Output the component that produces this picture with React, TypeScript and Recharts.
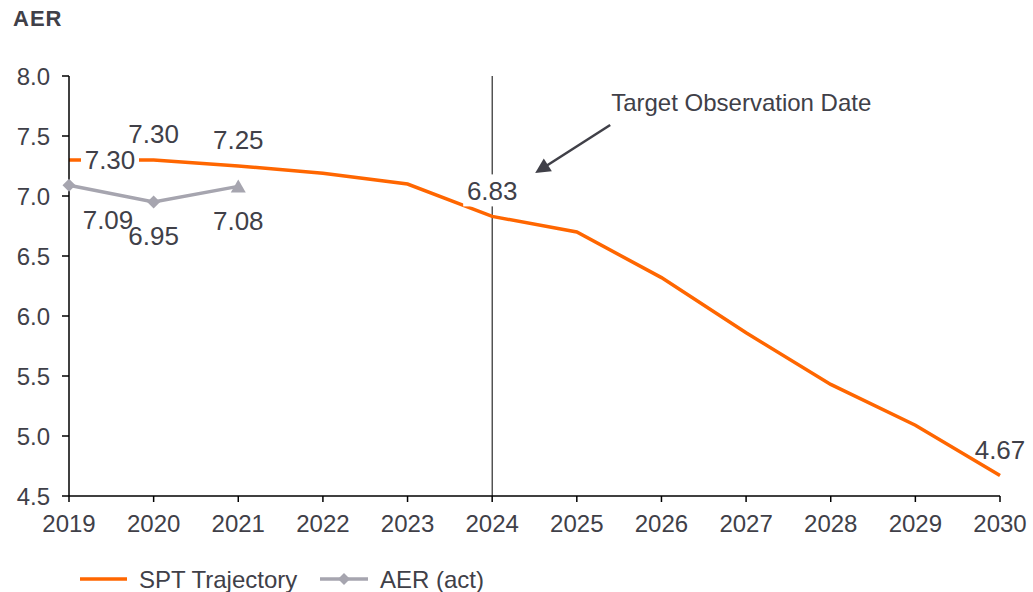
import { LabelList, Legend, Line, LineChart, ReferenceLine, XAxis, YAxis } from 'recharts'

const years = ['2019', '2020', '2021', '2022', '2023', '2024', '2025', '2026', '2027', '2028', '2029', '2030']
const sptTrajectory = [7.3, 7.3, 7.25, 7.19, 7.1, 6.83, 6.7, 6.32, 5.86, 5.43, 5.09, 4.67]
const aerActual = [7.09, 6.95, 7.08, null, null, null, null, null, null, null, null, null]
const sptLabelYears = ['2019', '2020', '2021', '2024', '2030']
const yTicks = [4.5, 5.0, 5.5, 6.0, 6.5, 7.0, 7.5, 8.0]
const targetYear = '2024'

const ORANGE = '#FF6600'
const GREY = '#A6A5AF'
const INK = '#404048'
const FONT = '"Liberation Sans", Arial, sans-serif'
const LABEL_SIZE = 26

const data = years.map((year, i) => ({ year, spt: sptTrajectory[i], aer: aerActual[i] }))

function pos(props: any) {
  const vb = props.viewBox ?? {}
  return { x: vb.x ?? props.x, y: vb.y ?? props.y }
}

function SptLabel(props: any) {
  const { index, value } = props
  const year = years[index]
  if (!sptLabelYears.includes(year)) return null
  const { x, y } = pos(props)
  const first = index === 0
  const cx = x + (first ? 41 : 0)
  const cy = y + (first ? 0 : -26)
  // white box only where the label sits on the line / target marker
  const boxed = first || year === targetYear
  return (
    <g>
      {boxed && <rect x={cx - 29} y={cy - 16} width={58} height={32} fill="#fff" />}
      <text x={cx} y={cy} dy="0.36em" textAnchor="middle" fill={INK} fontSize={LABEL_SIZE} fontFamily={FONT}>
        {Number(value).toFixed(2)}
      </text>
    </g>
  )
}

function AerLabel(props: any) {
  const { index, value } = props
  if (value == null) return null
  const { x, y } = pos(props)
  const cx = x + (index === 0 ? 39 : 0)
  const cy = y + 34
  return (
    <text x={cx} y={cy} dy="0.36em" textAnchor="middle" fill={INK} fontSize={LABEL_SIZE} fontFamily={FONT}>
      {Number(value).toFixed(2)}
    </text>
  )
}

function AerDot(props: any) {
  const { cx, cy, index } = props
  if (cx == null || cy == null || props.value == null) return null
  if (index === 2) {
    return <polygon key={index} points={`${cx},${cy - 7} ${cx + 7.5},${cy + 6} ${cx - 7.5},${cy + 6}`} fill={GREY} />
  }
  return <polygon key={index} points={`${cx},${cy - 6.5} ${cx + 6.5},${cy} ${cx},${cy + 6.5} ${cx - 6.5},${cy}`} fill={GREY} />
}

function TargetNote(props: any) {
  const vb = props.viewBox ?? {}
  const x = vb.x ?? 0
  const y = vb.y ?? 0
  // arrow from note down-left towards the line
  const sx = x + 118
  const sy = y + 49
  const tx = x + 43
  const ty = y + 97
  const len = Math.hypot(tx - sx, ty - sy)
  const ux = (tx - sx) / len
  const uy = (ty - sy) / len
  const bx = tx - ux * 15
  const by = ty - uy * 15
  const px = -uy * 7.5
  const py = ux * 7.5
  return (
    <g>
      <text x={x + 119} y={y + 35} fill={INK} fontSize={24} fontFamily={FONT}>
        Target Observation Date
      </text>
      <line x1={sx} y1={sy} x2={bx + ux * 2} y2={by + uy * 2} stroke={INK} strokeWidth={2.5} />
      <polygon points={`${tx},${ty} ${bx + px},${by + py} ${bx - px},${by - py}`} fill={INK} />
    </g>
  )
}

function ChartLegend() {
  return (
    <svg width={1033} height={30} style={{ display: 'block' }}>
      <line x1={80} y1={15} x2={127} y2={15} stroke={ORANGE} strokeWidth={3.5} />
      <text x={139} y={15} dy="0.36em" fill={INK} fontSize={24} fontFamily={FONT}>
        SPT Trajectory
      </text>
      <line x1={320} y1={15} x2={368} y2={15} stroke={GREY} strokeWidth={3.5} />
      <polygon points="344,9 350,15 344,21 338,15" fill={GREY} />
      <text x={380} y={15} dy="0.36em" fill={INK} fontSize={24} fontFamily={FONT}>
        AER (act)
      </text>
    </svg>
  )
}

export default function App() {
  return (
    <div style={{ position: 'absolute', left: 0, top: 0, width: 1033, height: 592, background: '#fff', fontFamily: FONT }}>
      <div
        style={{
          position: 'absolute',
          left: 13,
          top: 8,
          fontSize: 22,
          lineHeight: 1,
          letterSpacing: 1,
          fontWeight: 'bold',
          color: INK,
        }}
      >
        AER
      </div>
      <LineChart width={1033} height={592} data={data} margin={{ top: 76, right: 33, bottom: 16, left: 9 }}>
        <XAxis
          dataKey="year"
          height={50}
          tickSize={6}
          tickMargin={13}
          axisLine={{ stroke: '#000', strokeWidth: 1.5 }}
          tickLine={{ stroke: '#000', strokeWidth: 1.5 }}
          tick={{ fill: INK, fontSize: 24, fontFamily: FONT }}
          interval={0}
        />
        <YAxis
          width={60}
          domain={[4.5, 8]}
          ticks={yTicks}
          tickSize={7}
          tickMargin={12}
          tickFormatter={(v: number) => v.toFixed(1)}
          axisLine={{ stroke: '#000', strokeWidth: 1.5 }}
          tickLine={{ stroke: '#000', strokeWidth: 1.5 }}
          tick={{ fill: INK, fontSize: 24, fontFamily: FONT }}
          allowDataOverflow
        />
        <ReferenceLine x={targetYear} stroke="#000" strokeWidth={1} label={(p: any) => <TargetNote {...p} />} />
        <Line
          dataKey="spt"
          name="SPT Trajectory"
          stroke={ORANGE}
          strokeWidth={3.5}
          dot={false}
          activeDot={false}
          isAnimationActive={false}
        >
          <LabelList dataKey="spt" content={(p: any) => <SptLabel {...p} />} />
        </Line>
        <Line
          dataKey="aer"
          name="AER (act)"
          stroke={GREY}
          strokeWidth={3.5}
          dot={(p: any) => <AerDot key={p.index} {...p} />}
          activeDot={false}
          isAnimationActive={false}
        >
          <LabelList dataKey="aer" content={(p: any) => <AerLabel {...p} />} />
        </Line>
        <Legend
          verticalAlign="bottom"
          content={() => <ChartLegend />}
          wrapperStyle={{ top: 564, left: 0, width: 1033, height: 30 }}
        />
      </LineChart>
    </div>
  )
}
